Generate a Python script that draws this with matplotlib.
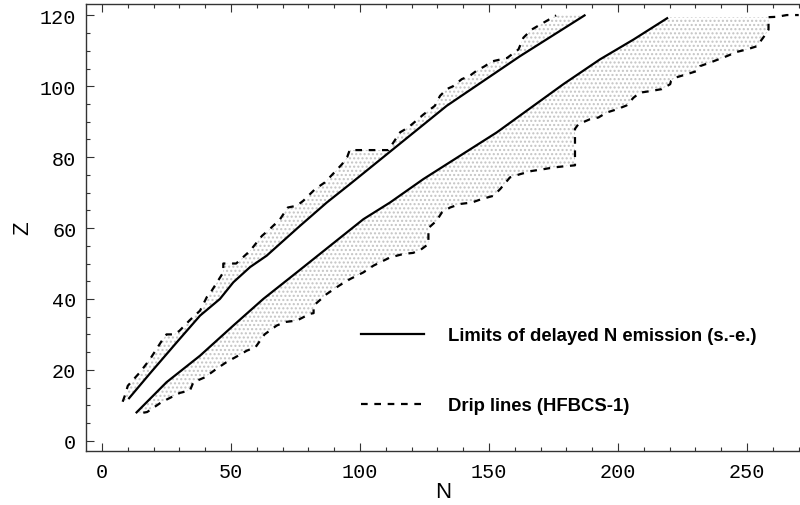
import matplotlib
matplotlib.use("Agg")
import matplotlib.pyplot as plt
from matplotlib.lines import Line2D
import numpy as np

# Upper limit of delayed emission (proton side), solid
up_solid_N = [10.5, 18.6, 29.6, 38, 45.7, 50.9, 57.4, 63.8, 76.7, 87.1, 96.1, 112.9, 133.6, 162, 187]
up_solid_Z = [12, 19, 28.3, 35.3, 40, 44.7, 49, 52.2, 60.6, 67.2, 72.4, 82.3, 94.5, 108.5, 120]

# Lower limit of delayed emission (neutron side), solid
lo_solid_N = [13.4, 25, 38, 50.9, 62.5, 75.5, 88.4, 101.3, 111.6, 124.5, 153, 178.8, 193, 206, 219]
lo_solid_Z = [8, 16.5, 24, 32.5, 40, 47.5, 55, 62.5, 67.2, 73.8, 87, 100.6, 107.6, 113.2, 119.2]

# Proton drip line (HFBCS-1), dashed
p_drip_N = [8, 9, 10, 14.7, 18.6, 23, 25, 28, 30, 34, 38, 40.6, 42.5, 47, 47, 52, 57.4, 62, 65,
            69, 72, 75.5, 78, 82.6, 86.4, 90.3, 93, 95, 96, 111, 115.5, 118.7, 121.3, 124.5, 129,
            131, 133.6, 136, 139.4, 142.6, 145, 148.4, 151, 157, 161.4, 163.3, 166.5, 171.7, 176]
p_drip_Z = [11, 13, 15.5, 19.3, 23, 28, 30, 30, 31, 34, 36.7, 40.5, 42.3, 47.5, 50, 50, 53.6, 57.8, 59.7,
            62.5, 65.8, 66.3, 67.7, 71, 72.9, 75.9, 78, 80, 82, 82, 87, 88.4, 90, 92, 94.5,
            97.3, 99.2, 100, 102, 103, 104.3, 105.7, 107, 108, 110.4, 113.7, 116, 118.2, 120]

# Neutron drip line (HFBCS-1), dashed
n_drip_N = [16, 17.5, 23.1, 30.2, 34.1, 35.4, 39.9, 44.4, 48.3, 52.8, 56.1, 59.5, 63, 67.7, 71, 75.5,
            80.6, 82, 82, 87.1, 92.2, 96.1, 101.3, 105.2, 111.6, 116.8, 120.6, 123.9, 126.5, 126.5,
            129.7, 131.7, 134.9, 138.8, 143.3, 147.2, 151.7, 154.3, 158.1, 162, 166.5, 171, 175,
            178.8, 183.3, 183.3, 184.6, 189.1, 192.4, 195.6, 199.5, 203.3, 206, 208.5, 213, 216.9,
            220.2, 220.5, 222, 226.6, 230.5, 231.8, 235.7, 242.1, 246, 249.9, 253.8, 255.7, 257.6,
            258.3, 258.3, 261.5, 265.4, 270]
n_drip_Z = [7.9, 8.1, 10.9, 13.5, 14.2, 16.5, 17.9, 20.3, 22.2, 24, 25.4, 26.4, 30, 32.5, 33.5, 33.9,
            35.8, 36, 38.1, 41.4, 43.9, 45.6, 47.5, 49.4, 51.7, 52.7, 53, 54.1, 55.5, 60,
            62.1, 64.4, 65.8, 66.8, 67.2, 68.2, 69.1, 71, 74.3, 75.2, 76.1, 76.6, 77.1,
            77.4, 77.7, 88, 89.3, 90.7, 91.2, 92.6, 93.5, 94.6, 96.8, 98.2, 98.7, 99.2,
            100.6, 101.5, 102.4, 103.4, 104.3, 105.7, 106.7, 108.5, 109.7, 110.4, 111.3, 113.2, 115.1,
            116, 119.5, 119.6, 120.1, 120.1]

xticks = [0, 50, 100, 150, 200, 250]
yticks = [0, 20, 40, 60, 80, 100, 120]
label_solid = "Limits of delayed N emission (s.-e.)"
label_dash = "Drip lines (HFBCS-1)"

fig = plt.figure(figsize=(8.0, 5.06), dpi=100)
ax = fig.add_axes([0.1075, 0.1067, 0.8925, 0.884])

fill_kw = dict(facecolor="white", edgecolor="#c4c4c4", hatch="....", linewidth=0, zorder=1)

# upper band: between proton drip line and upper solid limit
ux = list(up_solid_N) + list(p_drip_N[::-1])
uy = list(up_solid_Z) + list(p_drip_Z[::-1])
ax.fill(ux, uy, **fill_kw)

# lower band: between lower solid limit (closed at top) and neutron drip line
top_idx = next(i for i, z in enumerate(n_drip_Z) if z >= 119.5)
lx = list(lo_solid_N) + [lo_solid_N[-1]] + list(n_drip_N[:top_idx + 1][::-1])
ly = list(lo_solid_Z) + [n_drip_Z[top_idx]] + list(n_drip_Z[:top_idx + 1][::-1])
ax.fill(lx, ly, **fill_kw)

lw_s = 1.6
lw_d = 1.6
dash = (3, 3)
ax.plot(up_solid_N, up_solid_Z, color="black", lw=lw_s, zorder=3)
ax.plot(lo_solid_N, lo_solid_Z, color="black", lw=lw_s, zorder=3)
ax.plot(p_drip_N, p_drip_Z, color="black", lw=lw_d, dashes=dash, zorder=3)
ax.plot(n_drip_N, n_drip_Z, color="black", lw=lw_d, dashes=dash, zorder=3)

ax.set_xlim(-6.2, 270.5)
ax.set_ylim(-2.9, 123.3)
ax.set_xticks(xticks)
ax.set_yticks(yticks)
ax.set_xticks(np.arange(-0, 271, 10), minor=True)
ax.set_yticks(np.arange(0, 124, 5), minor=True)
ax.tick_params(which="both", direction="in", top=True, right=False, width=0.8, color="#333333")
ax.tick_params(which="major", length=6)
ax.tick_params(which="minor", length=3)
for lab in ax.get_xticklabels() + ax.get_yticklabels():
    lab.set_fontfamily("Liberation Mono")
    lab.set_fontsize(14.5)
ax.tick_params(axis="x", pad=8)
ax.tick_params(axis="y", pad=7)
for side in ["left", "bottom", "top"]:
    ax.spines[side].set_linewidth(1.0)
    ax.spines[side].set_color("#333333")
ax.spines["right"].set_visible(False)

ax.set_xlabel("N", fontfamily="Liberation Sans", fontsize=16, labelpad=0)
ax.set_ylabel("Z", fontfamily="Liberation Sans", fontsize=16, labelpad=5)

handles = [Line2D([], [], color="black", lw=lw_s),
           Line2D([], [], color="black", lw=lw_d, dashes=dash)]
ax.legend(handles, [label_solid, label_dash], loc="center left",
          bbox_to_anchor=(0.362, 0.18), frameon=False, handlelength=3.4,
          handletextpad=1.3, labelspacing=2.87,
          prop={"family": "Liberation Sans", "weight": "bold", "size": 13.3})

fig.savefig("out.png", dpi=100)
